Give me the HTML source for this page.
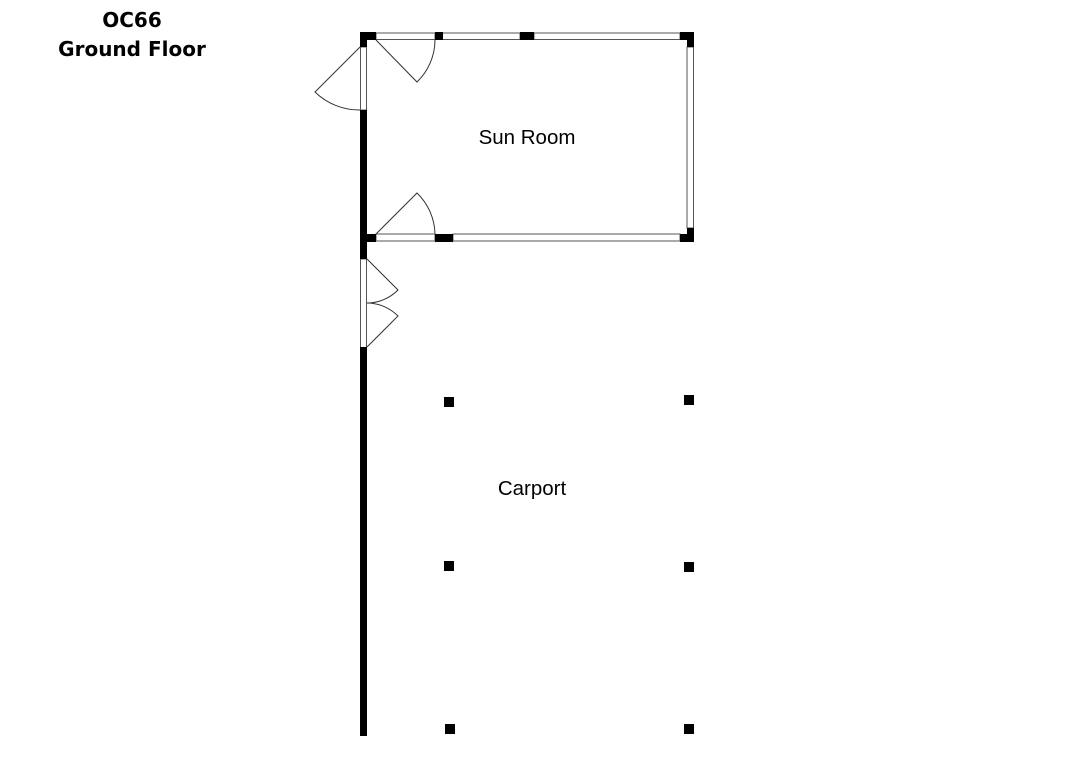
<!DOCTYPE html>
<html><head><meta charset="utf-8"><style>
html,body{margin:0;padding:0;background:#fff;width:1080px;height:760px;overflow:hidden}
</style></head><body>
<svg width="1080" height="760" xmlns="http://www.w3.org/2000/svg">
<rect width="1080" height="760" fill="#fff"/>
<text x="132" y="27" text-anchor="middle" font-family="'DejaVu Sans',sans-serif" font-weight="bold" font-size="20" fill="#000">OC66</text>
<text x="132" y="56" text-anchor="middle" font-family="'DejaVu Sans',sans-serif" font-weight="bold" font-size="20" fill="#000">Ground Floor</text>
<text x="527" y="144" text-anchor="middle" font-family="'Liberation Sans',sans-serif" font-size="20.5" fill="#000">Sun Room</text>
<text x="532" y="495" text-anchor="middle" font-family="'Liberation Sans',sans-serif" font-size="20.5" fill="#000">Carport</text>

<g fill="none" stroke="#555" stroke-width="1">
<rect x="376" y="33" width="59" height="6.5"/>
<rect x="442" y="33" width="78" height="6.5"/>
<rect x="534" y="33" width="146" height="6.5"/>
<rect x="376" y="234" width="59" height="7"/>
<rect x="453" y="234" width="227" height="7"/>
<rect x="687" y="47" width="6.5" height="181"/>
<rect x="360.5" y="47" width="6" height="63"/>
<rect x="360.5" y="259" width="6" height="89"/>
</g>
<g fill="#000">
<rect x="360" y="32" width="16" height="8"/>
<rect x="360" y="32" width="7" height="15"/>
<rect x="435" y="32" width="8" height="8"/>
<rect x="520" y="32" width="14" height="8"/>
<rect x="680" y="32" width="14" height="8"/>
<rect x="687" y="32" width="7" height="15"/>
<rect x="687" y="228" width="7" height="14"/>
<rect x="680" y="234" width="14" height="8"/>
<rect x="435" y="234" width="18" height="8"/>
<rect x="360" y="234" width="16" height="8"/>
<rect x="360" y="110" width="7" height="149"/>
<rect x="360" y="347" width="7" height="389"/>
<rect x="444" y="397" width="10" height="10"/>
<rect x="684" y="395" width="10" height="10"/>
<rect x="444" y="561" width="10" height="10"/>
<rect x="684" y="562" width="10" height="10"/>
<rect x="445" y="724" width="10" height="10"/>
<rect x="684" y="724" width="10" height="10"/>
</g>
<g fill="none" stroke="#333" stroke-width="1">
<path d="M376 40 L417 82 A59 59 0 0 0 435 40"/>
<path d="M376 234 L417 193 A59 59 0 0 1 435 234"/>
<path d="M360 47 L315 92 A63.6 63.6 0 0 0 360 110"/>
<path d="M367 259 L398 290 A44 44 0 0 1 367 303"/>
<path d="M367 347 L398 316 A44 44 0 0 0 367 303"/>
</g>
</svg>
</body></html>
